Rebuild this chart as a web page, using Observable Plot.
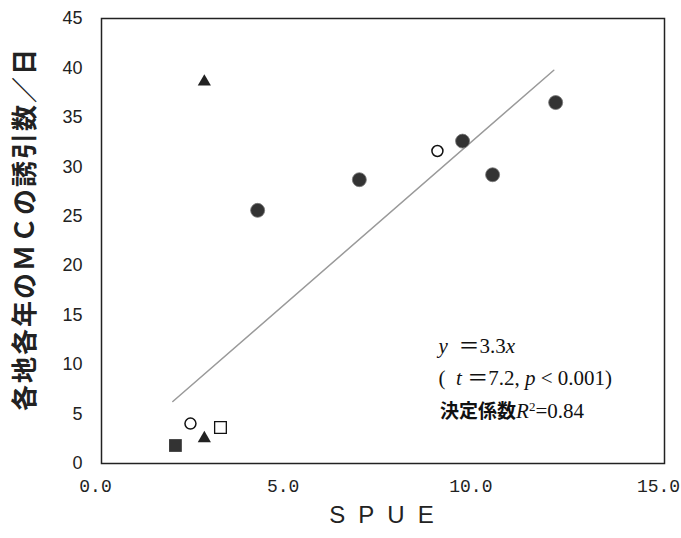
<!DOCTYPE html>
<html>
<head>
<meta charset="utf-8">
<script src="https://cdn.jsdelivr.net/npm/d3@7"></script>
<script src="https://cdn.jsdelivr.net/npm/@observablehq/plot@0.6"></script>
<style>
  html, body { margin: 0; padding: 0; background: #fff; }
  #chart { width: 681px; height: 538px; }
</style>
</head>
<body>
<div id="chart"></div>
<script>
// ---- data ----
const spue   = [1.97, 2.37, 2.74, 3.17, 2.74, 4.16, 6.87, 8.95, 9.62, 10.42, 12.1];
const counts = [1.82, 4.04, 2.53, 3.64, 38.6, 25.6, 28.7, 31.6, 32.6, 29.2, 36.5];
const shapes = ["square", "circle", "triangle", "square", "triangle", "circle", "circle", "circle", "circle", "circle", "circle"];
const filled = [true, false, true, false, true, true, true, false, true, true, true];

const regSlope = 3.3;
const regRange = [1.9, 12.05];

const xTicks = [0, 5, 10, 15];
const yTicks = [0, 5, 10, 15, 20, 25, 30, 35, 40, 45];

const xLabel = "SPUE";
const yLabel = "各地各年のＭＣの誘引数／日";

// annotation lines: segments [text, style]
const annSegments = [
  [["y", "i"], ["  ", ""], ["＝", "eq"], ["3.3", ""], ["x", "i"]],
  [["(  ", ""], ["t", "i"], [" ", ""], ["＝", "eq"], ["7.2, ", ""], ["p", "i"], [" < 0.001)", ""]],
  [["決定係数", "cjk"], ["R", "i"], ["2", "sup"], ["=0.84", ""]]
];
const annSize = [21, 21, 21];
const annX = [8.98, 8.98, 9.02];
const annY = [11.9, 8.6, 5.3];

// ---- build tables ----
const pts = spue.map((x, i) => ({x, y: counts[i], shape: shapes[i], filled: filled[i]}));
const reg = regRange.map(x => ({x, y: regSlope * x}));
const annPlain = annSegments.map(segs => segs.map(s => s[0]).join(""));
const ann = annPlain.map((t, i) => ({t, x: annX[i], y: annY[i]}));

const sel = (shape, f) => pts.filter(d => d.shape === shape && d.filled === f);

const plot = Plot.plot({
  width: 681,
  height: 538,
  marginLeft: 101,
  marginRight: 17,
  marginTop: 18,
  marginBottom: 75,
  style: {background: "#fff", color: "#222"},
  x: {domain: [0, 15]},
  y: {domain: [0, 45]},
  marks: [
    Plot.axisY({ticks: yTicks, tickSize: 0, tickPadding: 19, fontSize: 18, fontFamily: "Liberation Sans", label: null}),
    Plot.axisX({ticks: xTicks, tickSize: 0, tickPadding: 16, fontSize: 18, fontFamily: "Liberation Mono", tickFormat: d => d.toFixed(1), dx: -6, label: null}),
    Plot.line(reg, {x: "x", y: "y", stroke: "#9a9a9a", strokeWidth: 1.5}),
    Plot.dot(sel("circle", true), {x: "x", y: "y", symbol: "circle", r: 7, fill: "#333", stroke: "#777", strokeWidth: 0.8}),
    Plot.dot(sel("circle", false), {x: "x", y: "y", symbol: "circle", r: 5.5, fill: "#fff", stroke: "#111", strokeWidth: 1.5}),
    Plot.dot(sel("triangle", true), {x: "x", y: "y", symbol: "triangle", r: 4.9, fill: "#222"}),
    Plot.dot(sel("square", true), {x: "x", y: "y", symbol: "square", r: 7.2, fill: "#333"}),
    Plot.dot(sel("square", false), {x: "x", y: "y", symbol: "square", r: 6.6, fill: "#fff", stroke: "#111", strokeWidth: 1.3}),
    Plot.text(ann, {x: "x", y: "y", text: "t", textAnchor: "start", fontFamily: "Liberation Serif", fontSize: 19, fill: "#111"}),
    Plot.text([yLabel], {frameAnchor: "left", textAnchor: "middle", rotate: -90, dx: -76, dy: -12, fontSize: 26, fontWeight: "bold", fontFamily: "Noto Sans CJK JP", fill: "#222"}),
    Plot.text([xLabel], {frameAnchor: "bottom", textAnchor: "middle", dy: 59, dx: 5, fontSize: 24, fontFamily: "Liberation Sans", fill: "#222"}),
    Plot.frame({stroke: "#222", strokeWidth: 1.5})
  ]
});

document.getElementById("chart").appendChild(plot);

// rich text for annotations and letter spacing for the axis labels
const svg = d3.select(plot);
svg.selectAll("text").each(function() {
  const el = d3.select(this);
  const content = this.textContent;
  const idx = annPlain.indexOf(content);
  if (idx >= 0) {
    el.text(null);
    el.attr("font-size", annSize[idx]);
    annSegments[idx].forEach(([txt, style]) => {
      const ts = el.append("tspan").text(txt);
      if (style === "i") ts.attr("font-style", "italic");
      if (style === "eq") ts.attr("font-family", "Noto Sans CJK JP").attr("font-weight", "normal");
      if (style === "cjk") ts.attr("font-family", "Noto Sans CJK JP").attr("font-weight", "bold").attr("font-size", 19);
      if (style === "sup") ts.attr("font-size", 13).attr("baseline-shift", "super");
    });
  } else if (content === xLabel) {
    el.attr("letter-spacing", "13px");
  } else if (content === yLabel) {
    el.attr("letter-spacing", "2px");
  }
});
</script>
</body>
</html>
